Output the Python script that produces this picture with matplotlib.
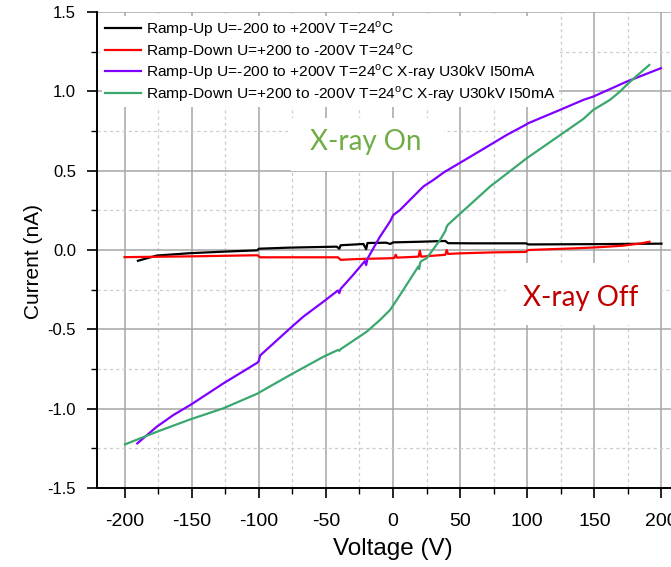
import matplotlib
matplotlib.use("Agg")
import matplotlib.pyplot as plt
from matplotlib.ticker import MultipleLocator
from matplotlib.patches import Rectangle

# ---------------- data ----------------
black_x = [-190, -176, -151, -125, -101, -100, -77, -42, -40, -39, -30, -22, -20, -19, -5, -2, 0, 20, 39, 41, 60, 99, 101, 150, 200]
black_y = [-0.068, -0.035, -0.02, -0.01, -0.002, 0.008, 0.015, 0.021, 0.008, 0.03, 0.034, 0.038, 0.005, 0.044, 0.046, 0.038, 0.048, 0.052, 0.057, 0.043, 0.042, 0.042, 0.035, 0.037, 0.04]

red_x = [-200, -150, -101, -99, -60, -41, -39, -27, -2, 1, 2, 3, 19, 20, 21, 39, 40, 41, 50, 75, 99, 100, 101, 134, 150, 171, 185, 191]
red_y = [-0.045, -0.04, -0.033, -0.046, -0.046, -0.046, -0.062, -0.057, -0.052, -0.05, -0.03, -0.048, -0.042, -0.005, -0.042, -0.03, 0.0, -0.025, -0.021, -0.015, -0.012, -0.004, 0.0, 0.01, 0.016, 0.027, 0.042, 0.052]

purple_x = [-190.5, -176, -163.6, -151, -126.4, -101, -100, -99, -76.7, -66.8, -51.9, -41, -40, -39, -30, -21, -20, -19, -10, -2.2, 0.2, 5.2, 12, 22.6, 30, 38, 40, 42, 59.8, 84.7, 99, 101, 124.4, 141.8, 149.2, 174, 199.6]
purple_y = [-1.219, -1.114, -1.04, -0.977, -0.841, -0.71, -0.70, -0.665, -0.494, -0.42, -0.326, -0.255, -0.272, -0.245, -0.16, -0.07, -0.095, -0.055, 0.08, 0.18, 0.22, 0.252, 0.31, 0.40, 0.441, 0.49, 0.5, 0.51, 0.599, 0.725, 0.79, 0.80, 0.883, 0.946, 0.967, 1.061, 1.146]

green_x = [-199.6, -176, -151.2, -126.4, -101, -100, -99, -76.7, -51.9, -41, -40, -39, -27, -19.6, -9.7, -2.2, 2.8, 18.8, 19.5, 20.1, 21, 25.1, 35, 39, 40, 41, 72.3, 99.6, 141.8, 149.2, 161.6, 169, 174, 181.5, 190.9]
green_y = [-1.225, -1.146, -1.068, -0.998, -0.905, -0.90, -0.895, -0.788, -0.673, -0.63, -0.635, -0.625, -0.557, -0.515, -0.441, -0.378, -0.315, -0.105, -0.12, -0.084, -0.07, -0.052, 0.063, 0.12, 0.147, 0.16, 0.40, 0.578, 0.826, 0.883, 0.946, 0.998, 1.04, 1.097, 1.166]

labels = [
    r"Ramp-Up U=-200 to +200V T=24$^\mathregular{o}$C",
    r"Ramp-Down U=+200 to -200V T=24$^\mathregular{o}$C",
    r"Ramp-Up U=-200 to +200V T=24$^\mathregular{o}$C X-ray U30kV I50mA",
    r"Ramp-Down U=+200 to -200V T=24$^\mathregular{o}$C X-ray U30kV I50mA",
]
colors = ["#000000", "#ff0000", "#8000ff", "#3aa86e"]

xticks = [-200, -150, -100, -50, 0, 50, 100, 150, 200]
yticks = [-1.5, -1.0, -0.5, 0.0, 0.5, 1.0, 1.5]

# ---------------- figure ----------------
plt.rcParams["font.family"] = ["Liberation Sans", "DejaVu Sans"]
plt.rcParams["mathtext.fontset"] = "custom"
plt.rcParams["mathtext.rm"] = "Liberation Sans"

W, H = 671, 567
fig = plt.figure(figsize=(W / 100, H / 100), dpi=100)
# axes extends past the right edge of the (cropped) figure
left_px, right_px, top_px, bot_px = 97, 689, 12, 488
ax = fig.add_axes([left_px / W, 1 - bot_px / H, (right_px - left_px) / W, (bot_px - top_px) / H])

ax.set_xlim(-220.5, 220.5)
ax.set_ylim(-1.5, 1.5)

for xs, ys, c, lab in zip([black_x, red_x, purple_x, green_x],
                          [black_y, red_y, purple_y, green_y], colors, labels):
    ax.plot(xs, ys, color=c, lw=1.6, label=lab, zorder=5)

ax.set_xticks(xticks)
ax.set_xticklabels([f"{v:d}" for v in xticks])
ax.set_yticks(yticks)
ax.set_yticklabels([f"{v:.1f}" for v in yticks])
ax.xaxis.set_minor_locator(MultipleLocator(25))
ax.yaxis.set_minor_locator(MultipleLocator(0.25))

ax.grid(which="major", color="#a6a6a6", lw=1.1, ls="-", zorder=0)
ax.grid(which="minor", color="#cccccc", lw=0.9, ls=(0, (2.5, 2.5)), zorder=0)
ax.set_axisbelow(True)

for s in ["top", "right"]:
    ax.spines[s].set_visible(False)
for s in ["left", "bottom"]:
    ax.spines[s].set_linewidth(1.4)
    ax.spines[s].set_zorder(6)

ax.tick_params(which="major", direction="out", length=7, width=1.2, pad=8)
ax.tick_params(which="minor", direction="out", length=4, width=1.0)
ax.tick_params(axis="x", which="major", labelsize=14, pad=11)
ax.tick_params(axis="y", which="major", labelsize=12)

ax.set_xlabel("Voltage (V)", fontsize=17.5, labelpad=6)
ax.set_ylabel("Current (nA)", fontsize=15)
ax.yaxis.set_label_coords(-0.092, 0.475)

leg = ax.legend(loc="upper left", bbox_to_anchor=(0.0084, 0.991), fontsize=11.15,
                frameon=True, framealpha=1, facecolor="white", edgecolor="none",
                handlelength=2.3, handletextpad=0.35, labelspacing=0.12,
                borderpad=0.2, borderaxespad=0.0)
leg.get_frame().set_linewidth(0)
leg.set_zorder(7)

# white boxes behind annotations
ax.add_patch(Rectangle((-76, 0.5), 114, 0.33, facecolor="white", edgecolor="none", zorder=2))
ax.add_patch(Rectangle((84, -0.47), 114, 0.39, facecolor="white", edgecolor="none", zorder=2))
ax.text(-20, 0.68, "X-ray On", color="#70ad47", fontsize=20, family=["Lato", "DejaVu Sans"],
        ha="center", va="center", zorder=3)
ax.text(140, -0.30, "X-ray Off", color="#c00000", fontsize=20, family=["Lato", "DejaVu Sans"],
        ha="center", va="center", zorder=3)

fig.savefig("out.png", dpi=100)
